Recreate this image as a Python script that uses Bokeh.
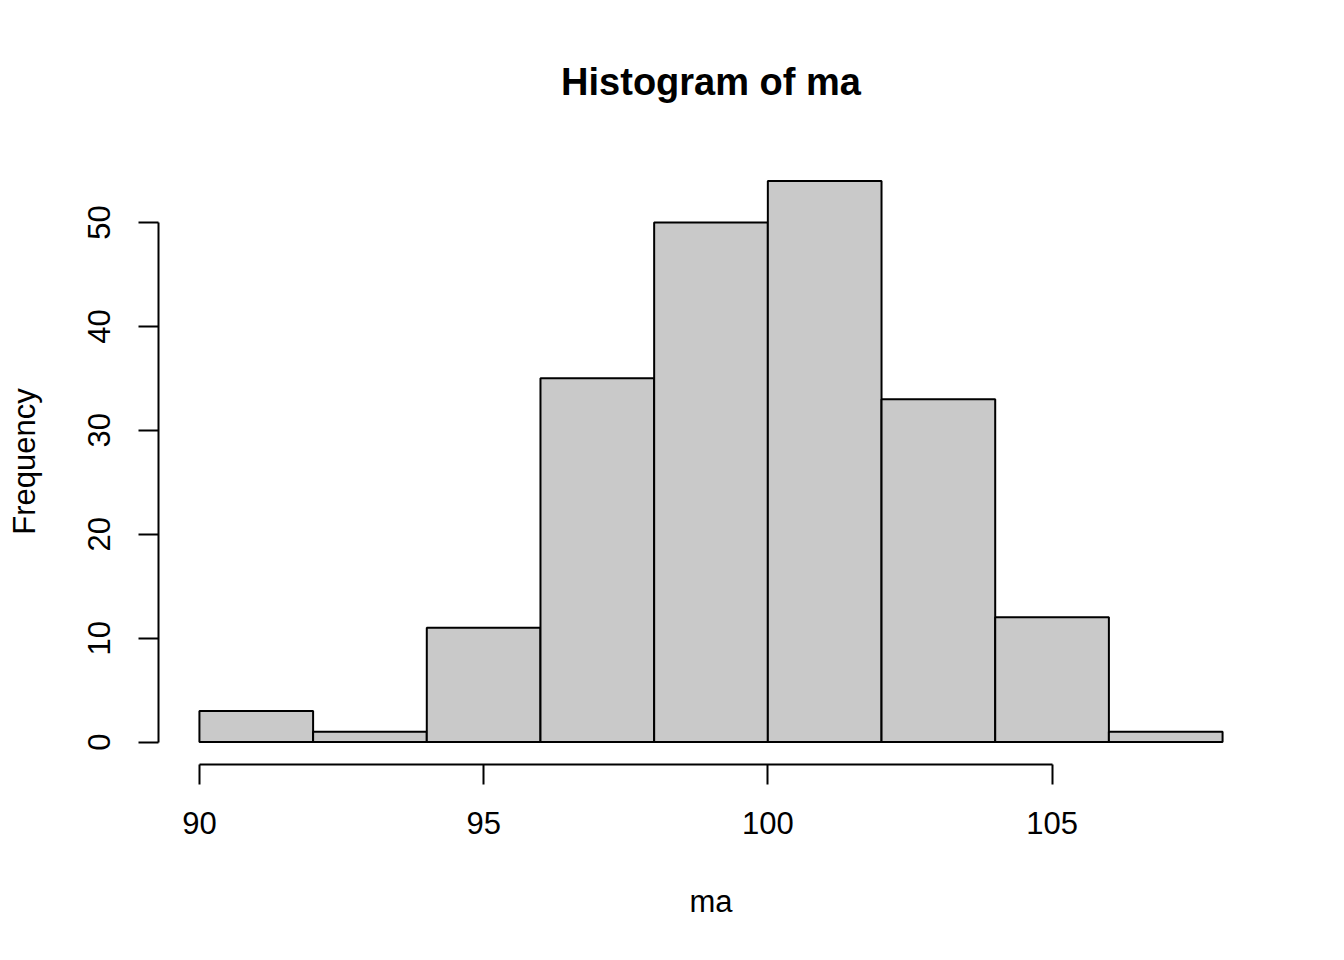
from bokeh.plotting import figure
from bokeh.models import Range1d, FixedTicker
from bokeh.embed import file_html
from bokeh.resources import INLINE

# Data
bin_left = [90, 92, 94, 96, 98, 100, 102, 104, 106]
bin_right = [92, 94, 96, 98, 100, 102, 104, 106, 108]
counts = [3, 1, 11, 35, 50, 54, 33, 12, 1]
x_ticks = [90, 95, 100, 105]
y_ticks = [0, 10, 20, 30, 40, 50]

FONT = "Liberation Sans"

p = figure(width=1328, height=944, output_backend="svg", toolbar_location=None,
           x_range=Range1d(89.28, 108.72), y_range=Range1d(-2.16, 56.16),
           min_border_left=158, min_border_right=65,
           min_border_top=158, min_border_bottom=180,
           title="Histogram of ma")

p.quad(left=bin_left, right=bin_right, bottom=0, top=counts,
       fill_color="#C9C9C9", line_color="black", line_width=2)

p.grid.visible = False
p.outline_line_color = None
p.background_fill_color = "white"
p.border_fill_color = "white"

p.title.align = "center"
p.title.text_font = FONT
p.title.text_font_size = "38px"
p.title.text_font_style = "bold"
p.title.text_color = "black"
p.title.standoff = 112

for ax, ticks, bounds in ((p.xaxis[0], x_ticks, (90, 105)), (p.yaxis[0], y_ticks, (0, 50))):
    ax.ticker = FixedTicker(ticks=ticks)
    ax.bounds = bounds
    ax.axis_line_width = 2
    ax.axis_line_color = "black"
    ax.major_tick_line_width = 2
    ax.major_tick_line_color = "black"
    ax.major_tick_out = 20
    ax.major_tick_in = 0
    ax.minor_tick_line_color = None
    ax.major_label_text_font = FONT
    ax.major_label_text_font_size = "31px"
    ax.major_label_text_color = "black"
    ax.axis_label_text_font = FONT
    ax.axis_label_text_font_size = "31px"
    ax.axis_label_text_font_style = "normal"
    ax.axis_label_text_color = "black"

p.xaxis.major_label_standoff = 27
p.xaxis.axis_label_standoff = 47
p.yaxis.major_label_standoff = 28
p.yaxis.axis_label_standoff = 44

p.xaxis.axis_label = "ma"
p.yaxis.axis_label = "Frequency"
p.yaxis.major_label_orientation = "vertical"

open("out.html", "w").write(file_html(p, INLINE))
